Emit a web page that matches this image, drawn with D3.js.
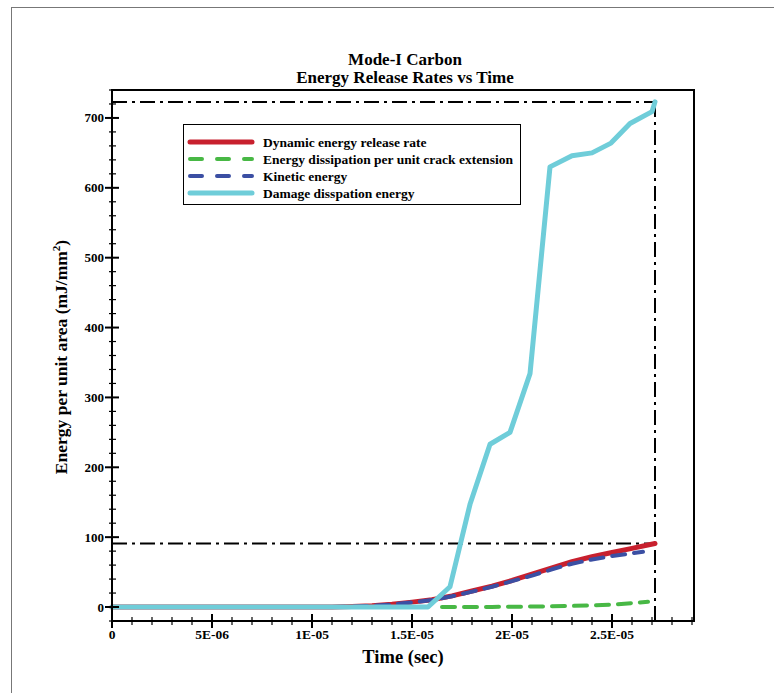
<!DOCTYPE html>
<html>
<head>
<meta charset="utf-8">
<script src="https://cdn.jsdelivr.net/npm/d3@7"></script>
<style>
  html, body { margin: 0; padding: 0; background: #fff; }
  svg { display: block; }
  text { font-family: "Liberation Serif", "Times New Roman", serif; font-weight: bold; fill: #000; }
</style>
</head>
<body>
<svg id="chart" width="774" height="693"></svg>
<script>
// Time samples are in microseconds; axis labels show seconds.
const xTickValues = [0, 5, 10, 15, 20, 25];
const xTickLabels = ["0", "5E-06", "1E-05", "1.5E-05", "2E-05", "2.5E-05"];
const yTickValues = [0, 100, 200, 300, 400, 500, 600, 700];

// Dynamic energy release rate
const releaseTime  = [0, 11, 12, 13, 14, 15, 16, 17, 18, 19, 20, 21, 22, 23, 24, 25, 26, 27.15];
const releaseValue = [0, 0, 0.8, 2, 4, 7, 10.5, 16, 23, 30, 38, 47, 56, 65, 72, 78, 84, 91];

// Energy dissipation per unit crack extension
const dissipTime  = [16.5, 18, 19, 20, 21, 22, 23, 24, 25, 26, 26.8];
const dissipValue = [0, 0, 0.2, 0.4, 0.7, 1.1, 1.6, 2.4, 3.5, 5.5, 7.5];

// Kinetic energy
const kineticTime  = [0, 11, 12, 13, 14, 15, 16, 17, 18, 19, 20, 21, 22, 23, 24, 25, 26, 26.55];
const kineticValue = [0, 0, 0.6, 1.8, 3.7, 6.5, 10, 15.5, 22, 29, 37, 45, 54, 62, 68, 73, 77, 79];

// Damage dissipation energy
const damageTime  = [0, 15.8, 16.9, 17.9, 18.9, 19.9, 20.9, 21.9, 23.0, 24.0, 24.95, 25.9, 27.0, 27.15];
const damageValue = [0, 0, 29, 147, 233, 250, 334, 630, 646, 650, 664, 692, 709, 723];

// Reference lines marking the final time and the peak values
const markerTime = 27.15;
const markerLevels = [723, 91];

const seriesNames = [
  "Dynamic energy release rate",
  "Energy dissipation per unit crack extension",
  "Kinetic energy",
  "Damage disspation energy"
];

const svg = d3.select("#chart");
const plotLeft = 112, plotRight = 694, plotTop = 90, plotBottom = 621;

const x = d3.scaleLinear().domain([0, 29.1]).range([plotLeft, plotRight]);
const y = d3.scaleLinear().domain([-20, 740]).range([plotBottom, plotTop]);

// Outer page border
svg.append("rect")
  .attr("x", 11.5).attr("y", 7.5).attr("width", 900).attr("height", 900)
  .attr("fill", "none").attr("stroke", "#777").attr("stroke-width", 1);

// Title
svg.append("text").attr("x", 405).attr("y", 65).attr("text-anchor", "middle")
  .attr("font-size", 17).text("Mode-I Carbon");
svg.append("text").attr("x", 405).attr("y", 83).attr("text-anchor", "middle")
  .attr("font-size", 17).text("Energy Release Rates vs Time");

// Reference dash-dot lines
const dashDot = "15,5,3,5";
markerLevels.forEach(v => {
  svg.append("line")
    .attr("x1", x(0)).attr("x2", x(markerTime))
    .attr("y1", y(v)).attr("y2", y(v))
    .attr("stroke", "#000").attr("stroke-width", 2)
    .attr("stroke-dasharray", dashDot);
});
svg.append("line")
  .attr("x1", x(markerTime)).attr("x2", x(markerTime))
  .attr("y1", y(markerLevels[0])).attr("y2", plotBottom)
  .attr("stroke", "#000").attr("stroke-width", 2)
  .attr("stroke-dasharray", dashDot);

// Curves
const line = d3.line().x(d => x(d[0])).y(d => y(d[1]));
const zip = (a, b) => a.map((t, i) => [t, b[i]]);

const series = [
  { name: seriesNames[0], data: zip(releaseTime, releaseValue), color: "#c8202e", width: 5, dash: null },
  { name: seriesNames[2], data: zip(kineticTime, kineticValue), color: "#3b4fa3", width: 4, dash: "13,9" },
  { name: seriesNames[1], data: zip(dissipTime, dissipValue), color: "#48b845", width: 4, dash: "13,9" },
  { name: seriesNames[3], data: zip(damageTime, damageValue), color: "#6fcdd9", width: 5, dash: null }
];

series.forEach(s => {
  svg.append("path")
    .datum(s.data)
    .attr("d", line)
    .attr("fill", "none")
    .attr("stroke", s.color)
    .attr("stroke-width", s.width)
    .attr("stroke-linejoin", "round")
    .attr("stroke-linecap", "round")
    .attr("stroke-dasharray", s.dash);
});

// Plot frame
svg.append("rect")
  .attr("x", plotLeft).attr("y", plotTop)
  .attr("width", plotRight - plotLeft).attr("height", plotBottom - plotTop)
  .attr("fill", "none").attr("stroke", "#000").attr("stroke-width", 2);

// X axis ticks (minor every 1E-06, major every 5E-06)
const xg = svg.append("g");
d3.range(0, 30, 1).forEach(t => {
  if (x(t) > plotRight) return;
  const major = t % 5 === 0;
  xg.append("line")
    .attr("x1", x(t)).attr("x2", x(t))
    .attr("y1", plotBottom - (major ? 7 : 4)).attr("y2", plotBottom + (major ? 7 : 4))
    .attr("stroke", "#000").attr("stroke-width", major ? 2 : 1.2);
});
xTickValues.forEach((t, i) => {
  xg.append("text").attr("x", x(t)).attr("y", 639)
    .attr("text-anchor", "middle").attr("font-size", 13.5).text(xTickLabels[i]);
});

// Y axis ticks (minor every 20, major every 100)
const yg = svg.append("g");
d3.range(-20, 741, 20).forEach(v => {
  const major = v % 100 === 0;
  yg.append("line")
    .attr("x1", plotLeft - (major ? 7 : 3)).attr("x2", plotLeft + (major ? 7 : 4))
    .attr("y1", y(v)).attr("y2", y(v))
    .attr("stroke", "#000").attr("stroke-width", major ? 2 : 1.2);
});
yTickValues.forEach(v => {
  yg.append("text").attr("x", 104).attr("y", y(v) + 4.5)
    .attr("text-anchor", "end").attr("font-size", 13).text(v);
});

// Axis titles
svg.append("text").attr("x", 403).attr("y", 663).attr("text-anchor", "middle")
  .attr("font-size", 18.5).text("Time (sec)");
const yTitle = svg.append("text")
  .attr("transform", "translate(67,357) rotate(-90)")
  .attr("text-anchor", "middle").attr("font-size", 17.5);
yTitle.append("tspan").text("Energy per unit area (mJ/mm");
yTitle.append("tspan").attr("font-size", 11).attr("dy", -7).text("2");
yTitle.append("tspan").attr("dy", 7).text(")");

// Legend
const lg = svg.append("g");
lg.append("rect").attr("x", 183.5).attr("y", 124.5).attr("width", 337).attr("height", 80)
  .attr("fill", "#fff").attr("stroke", "#000").attr("stroke-width", 1);
const legendOrder = [series[0], series[2], series[1], series[3]];
legendOrder.forEach((s, i) => {
  const ly = 142 + i * 17;
  lg.append("line")
    .attr("x1", 190).attr("x2", 252).attr("y1", ly).attr("y2", ly)
    .attr("stroke", s.color).attr("stroke-width", s.width)
    .attr("stroke-linecap", "round")
    .attr("stroke-dasharray", s.dash ? "12,15" : null);
  lg.append("text").attr("x", 263).attr("y", ly + 4.5)
    .attr("font-size", 13.5).text(s.name);
});
</script>
</body>
</html>
